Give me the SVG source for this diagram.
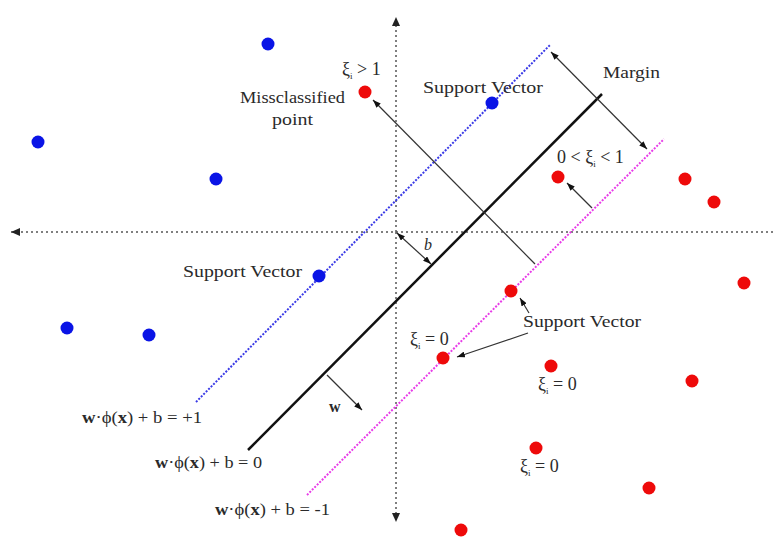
<svg xmlns="http://www.w3.org/2000/svg" width="773" height="537" viewBox="0 0 773 537">
<defs>
<marker id="ah" viewBox="0 0 8 6" refX="8" refY="3" markerWidth="8" markerHeight="6" markerUnits="userSpaceOnUse" orient="auto-start-reverse"><path d="M0,0 L8,3 L0,6 z" fill="#111"/></marker>
<marker id="ax" viewBox="0 0 9 8" refX="9" refY="4" markerWidth="9" markerHeight="8" markerUnits="userSpaceOnUse" orient="auto"><path d="M0,0 L9,4 L0,8 z" fill="#222"/></marker>
</defs>
<style>
text{font-family:"Liberation Serif","Times New Roman",serif;font-size:16px;fill:#2a2a2a}
.xi{font-size:18px}
.axis{stroke:#555;stroke-width:1.5;stroke-dasharray:2 3;fill:none}
.blue{fill:#0a14e6}
.red{fill:#ee0a0a}
.arr{stroke:#333;stroke-width:1.2;fill:none}
.sub{font-size:9px}
</style>
<rect width="773" height="537" fill="#ffffff"/>
<g id="axes">
<line class="axis" x1="773" y1="232" x2="11" y2="232" marker-end="url(#ax)"/>
<line class="axis" x1="396" y1="232" x2="396" y2="17" marker-end="url(#ax)"/>
<line class="axis" x1="396" y1="232" x2="396" y2="522" marker-end="url(#ax)"/>
</g>
<g id="hyperplanes">
<line id="plus1" x1="196" y1="402" x2="550" y2="45" stroke="#3a3ae6" stroke-width="2" stroke-dasharray="2 1.5"/>
<line id="zero" x1="248" y1="450" x2="602" y2="94" stroke="#111" stroke-width="2.5"/>
<line id="minus1" x1="307" y1="495" x2="664" y2="139" stroke="#e83ce8" stroke-width="2" stroke-dasharray="2 1.5"/>
</g>
<g id="connectors">
<line class="arr" x1="551" y1="52" x2="647" y2="149" marker-start="url(#ah)" marker-end="url(#ah)"/>
<line class="arr" x1="535" y1="264" x2="373" y2="100" marker-end="url(#ah)"/>
<line class="arr" x1="592" y1="208" x2="567" y2="183" marker-end="url(#ah)"/>
<line class="arr" x1="431" y1="264" x2="397" y2="233" marker-start="url(#ah)" marker-end="url(#ah)"/>
<line class="arr" x1="327" y1="375" x2="362" y2="410" marker-end="url(#ah)"/>
<line class="arr" x1="529" y1="313" x2="520" y2="298" marker-end="url(#ah)"/>
<line class="arr" x1="528" y1="333" x2="457" y2="357" marker-end="url(#ah)"/>
</g>
<g id="blue-points">
<circle class="blue" cx="268" cy="44" r="6.5"/>
<circle class="blue" cx="38" cy="142" r="6.5"/>
<circle class="blue" cx="216" cy="179" r="6.5"/>
<circle class="blue" cx="492" cy="103" r="6.5"/>
<circle class="blue" cx="319" cy="276" r="6.5"/>
<circle class="blue" cx="67" cy="328" r="6.5"/>
<circle class="blue" cx="149" cy="335" r="6.5"/>
</g>
<g id="red-points">
<circle class="red" cx="365" cy="92" r="6.5"/>
<circle class="red" cx="558" cy="177" r="6.5"/>
<circle class="red" cx="685" cy="179" r="6.5"/>
<circle class="red" cx="714" cy="202" r="6.5"/>
<circle class="red" cx="744" cy="283" r="6.5"/>
<circle class="red" cx="511" cy="291" r="6.5"/>
<circle class="red" cx="443" cy="358" r="6.5"/>
<circle class="red" cx="551" cy="366" r="6.5"/>
<circle class="red" cx="692" cy="381" r="6.5"/>
<circle class="red" cx="536" cy="448" r="6.5"/>
<circle class="red" cx="649" cy="488" r="6.5"/>
<circle class="red" cx="461" cy="530" r="6.5"/>
</g>
<g id="labels">
<text x="603" y="78" textLength="57" lengthAdjust="spacingAndGlyphs">Margin</text>
<text x="423" y="93" textLength="120" lengthAdjust="spacingAndGlyphs">Support Vector</text>
<text x="183" y="277" textLength="119" lengthAdjust="spacingAndGlyphs">Support Vector</text>
<text x="523" y="327" textLength="118" lengthAdjust="spacingAndGlyphs">Support Vector</text>
<text x="240" y="103" textLength="105" lengthAdjust="spacingAndGlyphs">Missclassified</text>
<text x="272" y="125" textLength="41" lengthAdjust="spacingAndGlyphs">point</text>
<text class="xi" x="342" y="75">ξ<tspan class="sub" dy="4">i</tspan><tspan dy="-4"> &gt; 1</tspan></text>
<text class="xi" x="557" y="163">0 &lt; ξ<tspan class="sub" dy="4">i</tspan><tspan dy="-4"> &lt; 1</tspan></text>
<text class="xi" x="410" y="345">ξ<tspan class="sub" dy="4">i</tspan><tspan dy="-4"> = 0</tspan></text>
<text class="xi" x="538" y="390">ξ<tspan class="sub" dy="4">i</tspan><tspan dy="-4"> = 0</tspan></text>
<text class="xi" x="520" y="472">ξ<tspan class="sub" dy="4">i</tspan><tspan dy="-4"> = 0</tspan></text>
<text x="424" y="250" font-style="italic" font-size="19">b</text>
<text x="329" y="412" font-weight="bold">w</text>
<text x="82" y="423" textLength="120" lengthAdjust="spacingAndGlyphs"><tspan font-weight="bold">w</tspan>·ϕ(<tspan font-weight="bold">x</tspan>) + b = +1</text>
<text x="155" y="468" textLength="107" lengthAdjust="spacingAndGlyphs"><tspan font-weight="bold">w</tspan>·ϕ(<tspan font-weight="bold">x</tspan>) + b = 0</text>
<text x="215" y="515" textLength="115" lengthAdjust="spacingAndGlyphs"><tspan font-weight="bold">w</tspan>·ϕ(<tspan font-weight="bold">x</tspan>) + b = -1</text>
</g>
</svg>
